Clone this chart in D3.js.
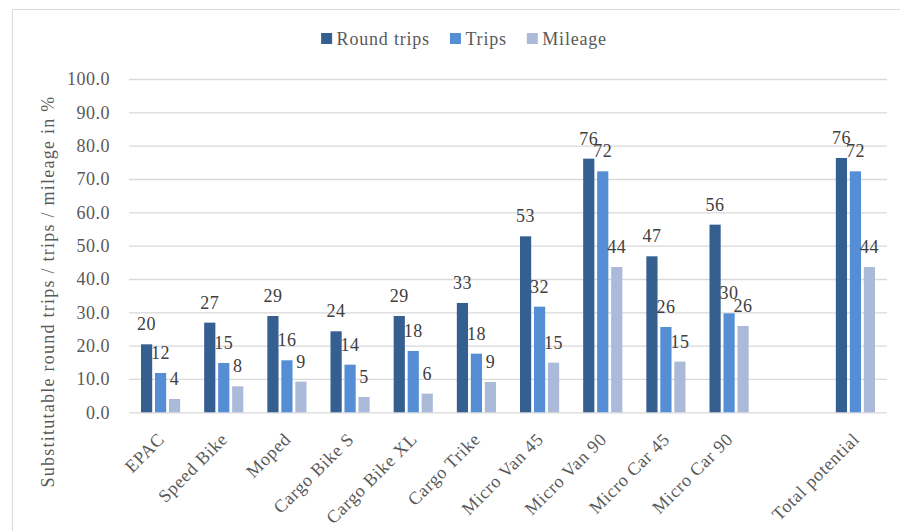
<!DOCTYPE html>
<html>
<head>
<meta charset="utf-8">
<script src="https://cdn.jsdelivr.net/npm/d3@7"></script>
<style>
  html, body { margin: 0; padding: 0; background: #fff; }
  svg { display: block; }
</style>
</head>
<body>
<svg id="chart" width="900" height="531"></svg>
<script>
const categories = ["EPAC", "Speed Bike", "Moped", "Cargo Bike S", "Cargo Bike XL", "Cargo Trike",
  "Micro Van 45", "Micro Van 90", "Micro Car 45", "Micro Car 90", "", "Total potential"];
const seriesNames = ["Round trips", "Trips", "Mileage"];
const roundTrips = [20.4, 26.9, 28.9, 24.3, 28.9, 32.8, 52.8, 76.1, 46.8, 56.3, null, 76.3];
const trips      = [11.8, 14.8, 15.6, 14.3, 18.4, 17.6, 31.7, 72.3, 25.6, 29.7, null, 72.3];
const mileage    = [4.0, 7.8, 9.2, 4.6, 5.6, 9.1, 14.9, 43.6, 15.2, 25.9, null, 43.6];
const yTicks = [0, 10, 20, 30, 40, 50, 60, 70, 80, 90, 100];
const colors = ["#365F91", "#558ED5", "#ABBAD9"];
const yTitle = "Substitutable round trips / trips / mileage in %";

const seriesValues = [roundTrips, trips, mileage];
const FONT = "'Liberation Serif', 'Times New Roman', serif";
const svg = d3.select("#chart");

// outer chart border
svg.append("rect").attr("x", 12.5).attr("y", 9.5).attr("width", 920).attr("height", 560)
  .attr("fill", "none").attr("stroke", "#d9d9d9").attr("stroke-width", 1);

const plot = { left: 129, right: 887, top: 79, bottom: 412.3 };

const x0 = d3.scaleBand().domain(categories).range([plot.left, plot.right])
  .paddingInner(0.38).paddingOuter(0.19);
const x1 = d3.scaleBand().domain(seriesNames).range([0, x0.bandwidth()]).paddingInner(0.2);
const y = d3.scaleLinear().domain([0, 100]).range([plot.bottom, plot.top]);

// y axis with gridlines
const yAxis = d3.axisLeft(y).tickValues(yTicks).tickFormat(d3.format(".1f"))
  .tickSize(-(plot.right - plot.left)).tickPadding(19);
const gy = svg.append("g").attr("transform", `translate(${plot.left},0)`).call(yAxis);
gy.select(".domain").remove();
gy.selectAll(".tick line").attr("stroke", "#d9d9d9").attr("stroke-width", 1.3);
gy.selectAll(".tick text").attr("fill", "#595959").attr("font-family", FONT)
  .attr("font-size", 18).attr("letter-spacing", 0.5);

// bars
const groups = svg.append("g").selectAll("g")
  .data(categories.map((c, i) => ({ c, i })))
  .join("g").attr("transform", d => `translate(${x0(d.c)},0)`);

seriesNames.forEach((s, si) => {
  groups.filter(d => seriesValues[si][d.i] != null)
    .append("rect")
    .attr("x", x1(s))
    .attr("width", x1.bandwidth())
    .attr("y", d => y(seriesValues[si][d.i]))
    .attr("height", d => y(0) - y(seriesValues[si][d.i]))
    .attr("fill", colors[si]);
});

// data labels
seriesNames.forEach((s, si) => {
  groups.filter(d => seriesValues[si][d.i] != null)
    .append("text")
    .attr("x", x1(s) + x1.bandwidth() / 2)
    .attr("y", d => y(seriesValues[si][d.i]) - 14)
    .attr("text-anchor", "middle")
    .attr("font-family", FONT).attr("font-size", 18).attr("letter-spacing", 0.5)
    .attr("fill", "#404040")
    .text(d => d3.format(".0f")(seriesValues[si][d.i]));
});

// x axis category labels (rotated)
const xAxis = d3.axisBottom(x0).tickSize(0).tickPadding(0);
const gx = svg.append("g").attr("transform", `translate(0,${plot.bottom})`).call(xAxis);
gx.select(".domain").remove();
gx.selectAll(".tick text")
  .attr("fill", "#595959").attr("font-family", FONT).attr("font-size", 18)
  .attr("letter-spacing", 0.7)
  .attr("text-anchor", "end")
  .attr("dy", null)
  .attr("y", null)
  .attr("transform", "translate(5,28) rotate(-45)");

// y axis title
svg.append("text")
  .attr("transform", "translate(54,291.5) rotate(-90)")
  .attr("text-anchor", "middle")
  .attr("font-family", FONT).attr("font-size", 18).attr("letter-spacing", 1.25)
  .attr("fill", "#595959")
  .text(yTitle);

// legend
const legend = svg.append("g");
let lx = 0;
seriesNames.forEach((s, si) => {
  const g = legend.append("g").attr("transform", `translate(${lx},0)`);
  g.append("rect").attr("x", 0).attr("y", 33).attr("width", 11).attr("height", 11).attr("fill", colors[si]);
  const t = g.append("text").attr("x", 15.5).attr("y", 44.5)
    .attr("font-family", FONT).attr("font-size", 18).attr("letter-spacing", 0.8)
    .attr("fill", "#595959").text(s);
  lx += 15.5 + t.node().getComputedTextLength() + 20;
});
const legendWidth = lx - 20;
legend.attr("transform", `translate(${464 - legendWidth / 2},0)`);
</script>
</body>
</html>
